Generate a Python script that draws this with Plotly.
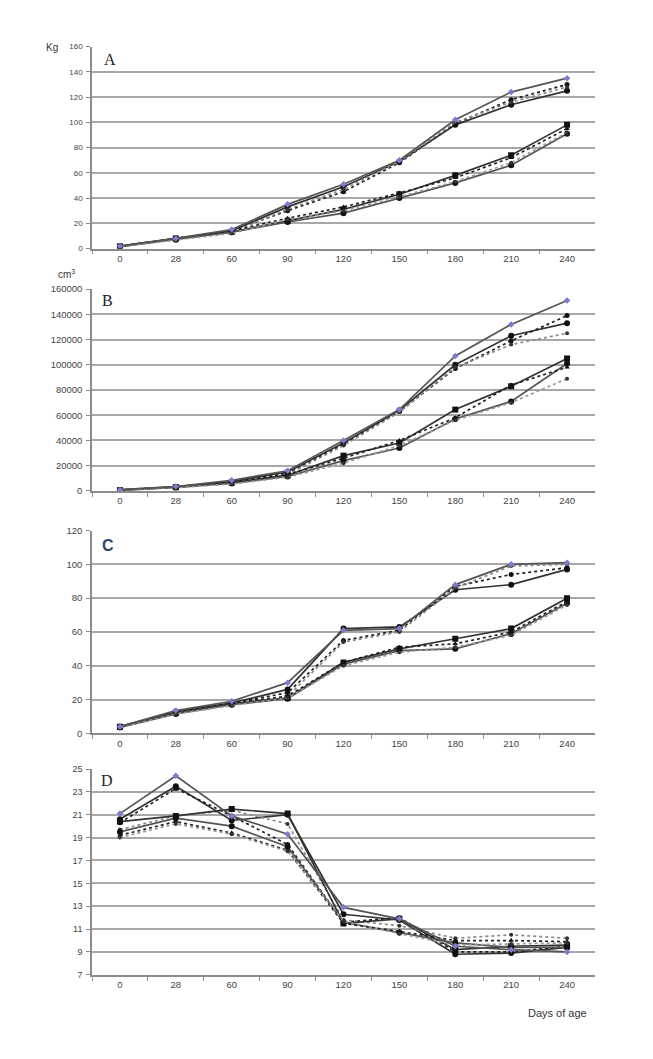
import plotly.graph_objects as go

days = ["0", "28", "60", "90", "120", "150", "180", "210", "240"]

# Panel A: body weight (Kg)
a1 = [2, 8, 15, 35, 51, 70, 102, 124, 135]
a2 = [2, 8, 14, 33, 49, 69, 98, 114, 125]
a3 = [2, 8, 14, 30, 45, 68, 99, 118, 130]
a4 = [2, 7, 13, 31, 47, 69, 100, 116, 128]
a5 = [1.5, 8, 13, 22, 31, 43, 58, 74, 98]
a6 = [1.5, 7, 13, 21, 28, 40, 52, 66, 91]
a7 = [1.5, 8, 14, 24, 33, 44, 56, 72, 95]
a8 = [1.5, 7, 12, 23, 30, 41, 53, 68, 92]

# Panel B: volume (cm3)
b1 = [1000, 3500, 8500, 16000, 40000, 64500, 107000, 132000, 151000]
b2 = [800, 3200, 7500, 15000, 38000, 64000, 100000, 123000, 133000]
b3 = [900, 3300, 7000, 14000, 37000, 63000, 97000, 119000, 139000]
b4 = [700, 3000, 6500, 13000, 36000, 62500, 98000, 116000, 125000]
b5 = [600, 3000, 6500, 12500, 28000, 38000, 64500, 83000, 105000]
b6 = [500, 2800, 6000, 11500, 24000, 34000, 57000, 71000, 101000]
b7 = [700, 3100, 7000, 13000, 26000, 40000, 58000, 84000, 98000]
b8 = [500, 2700, 5500, 11000, 22000, 36000, 56000, 70000, 89000]

# Panel C
c1 = [4, 13.5, 19, 30, 61, 62, 88, 100, 101]
c2 = [4, 13, 18, 26, 62, 63, 85, 88, 97]
c3 = [4, 12.5, 18, 24, 55, 61, 87, 94, 98]
c4 = [3.5, 12, 17, 22, 54, 60, 86, 99, 100]
c5 = [4, 12, 17.5, 21, 42, 50, 56, 62, 80]
c6 = [3.5, 11.5, 17, 20.5, 41, 49, 50, 59, 77]
c7 = [4, 12.5, 18, 22, 42, 51, 53, 60, 78]
c8 = [3.5, 11.5, 16.5, 21, 40, 48, 51, 58, 76]

# Panel D
d1 = [21.1, 24.4, 20.9, 19.3, 12.9, 11.9, 9.5, 9.2, 9.0]
d2 = [20.6, 23.5, 20.5, 21.0, 12.3, 11.8, 8.8, 8.9, 9.4]
d3 = [20.3, 23.3, 20.9, 18.4, 11.6, 12.0, 9.0, 9.0, 9.5]
d4 = [19.7, 20.9, 21.4, 20.2, 11.8, 11.3, 10.2, 10.5, 10.2]
d5 = [20.4, 20.9, 21.5, 21.1, 11.5, 11.9, 9.2, 9.5, 9.6]
d6 = [19.5, 20.7, 20.0, 18.2, 11.6, 10.7, 9.8, 9.4, 9.4]
d7 = [19.2, 20.4, 19.4, 17.9, 11.5, 10.8, 10.0, 10.0, 9.9]
d8 = [19.0, 20.2, 19.3, 17.8, 11.7, 10.6, 9.6, 9.7, 9.8]

panels = [
    ("A", [a1, a2, a3, a4, a5, a6, a7, a8], [0, 160], 20),
    ("B", [b1, b2, b3, b4, b5, b6, b7, b8], [0, 160000], 20000),
    ("C", [c1, c2, c3, c4, c5, c6, c7, c8], [0, 120], 20),
    ("D", [d1, d2, d3, d4, d5, d6, d7, d8], [7, 25], 2),
]
ytick_sizes = [8, 9.5, 9.5, 9]

styles = [
    dict(dash="solid", lc="#555555", lw=1.7, sym="diamond", ms=5, mc="#7b7bd0"),
    dict(dash="solid", lc="#333333", lw=1.7, sym="circle", ms=6, mc="#111111"),
    dict(dash="dot", lc="#222222", lw=1.7, sym="circle", ms=5, mc="#111111"),
    dict(dash="dot", lc="#8a8a8a", lw=1.7, sym="circle", ms=4, mc="#333333"),
    dict(dash="solid", lc="#333333", lw=1.7, sym="square", ms=6, mc="#111111"),
    dict(dash="solid", lc="#555555", lw=1.7, sym="circle", ms=6, mc="#111111"),
    dict(dash="dot", lc="#222222", lw=1.7, sym="triangle-up", ms=5, mc="#111111"),
    dict(dash="dot", lc="#999999", lw=1.7, sym="circle", ms=4, mc="#333333"),
]

# the page body has an 8px margin, so the figure starts at (8, 8) of the window
OFF = 8
W = 653.0 - OFF
H = 1059.0 - OFF


def px_x(x):
    return (x - OFF) / W


def px_y(y):
    return 1 - (y - OFF) / H


xdom = [px_x(92), px_x(595)]
ydoms_px = [(41, 245), (286, 490), (530, 735), (771, 979)]

fig = go.Figure()
layout = {}
letter_pos = [(110, 54, "serif"), (107, 298, "serif"), (108, 545, "sans"), (107, 783, "serif")]
annotations = []

# draw order: put blue series last so its markers show on top
order = [1, 2, 3, 4, 5, 6, 7, 0]
for i, (name, series, yr, dt) in enumerate(panels):
    k = "" if i == 0 else str(i + 1)
    for j in order:
        st = styles[j]
        fig.add_trace(go.Scatter(
            x=days, y=series[j], mode="lines+markers",
            xaxis="x" + k, yaxis="y" + k, showlegend=False,
            line=dict(color=st["lc"], width=st["lw"], dash=st["dash"]),
            marker=dict(symbol=st["sym"], size=st["ms"], color=st["mc"]),
        ))
    top, bot = ydoms_px[i]
    layout["xaxis" + k] = dict(
        domain=xdom, anchor="y" + k, type="category",
        categoryorder="array", categoryarray=days,
        range=[-0.5, 8.5], tickson="boundaries",
        ticks="outside", ticklen=4, tickcolor="#8c8c8c",
        showline=True, linecolor="#8c8c8c", linewidth=1.5,
        showgrid=False, ticklabelstandoff=0,
        tickfont=dict(family="Liberation Sans", size=9.5, color="#444444"),
    )
    layout["yaxis" + k] = dict(
        domain=[px_y(bot), px_y(top)], anchor="x" + k,
        range=yr, dtick=dt, tick0=yr[0], tickformat="d",
        ticks="outside", ticklen=4, tickcolor="#8c8c8c",
        showline=True, linecolor="#8c8c8c", linewidth=1.5,
        showgrid=True, gridcolor="#a8a8a8", gridwidth=2,
        zeroline=False, ticklabelstandoff=2,
        tickfont=dict(family="Liberation Sans", size=ytick_sizes[i], color="#444444"),
    )
    lx, ly, fam = letter_pos[i]
    annotations.append(dict(
        text="<b>" + name + "</b>" if fam == "sans" else name,
        x=px_x(lx), y=px_y(ly), xref="paper", yref="paper",
        showarrow=False, xanchor="center", yanchor="middle",
        font=dict(family="Liberation Serif" if fam == "serif" else "Liberation Sans",
                  size=16, color="#2a4570" if fam == "sans" else "#222222"),
    ))

annotations.append(dict(text="Kg", x=px_x(52), y=px_y(42), xref="paper", yref="paper",
                        showarrow=False, xanchor="center", yanchor="middle",
                        font=dict(family="Liberation Sans", size=10, color="#333333")))
annotations.append(dict(text="cm<sup>3</sup>", x=px_x(66), y=px_y(271), xref="paper", yref="paper",
                        showarrow=False, xanchor="center", yanchor="middle",
                        font=dict(family="Liberation Sans", size=10, color="#333333")))
annotations.append(dict(text="Days of age", x=px_x(557), y=px_y(1018), xref="paper", yref="paper",
                        showarrow=False, xanchor="center", yanchor="middle",
                        font=dict(family="Liberation Sans", size=11, color="#333333")))

fig.update_layout(
    width=int(W), height=int(H),
    margin=dict(l=0, r=0, t=0, b=0),
    paper_bgcolor="white", plot_bgcolor="white",
    annotations=annotations,
    **layout,
)

fig.write_html("out.html")
